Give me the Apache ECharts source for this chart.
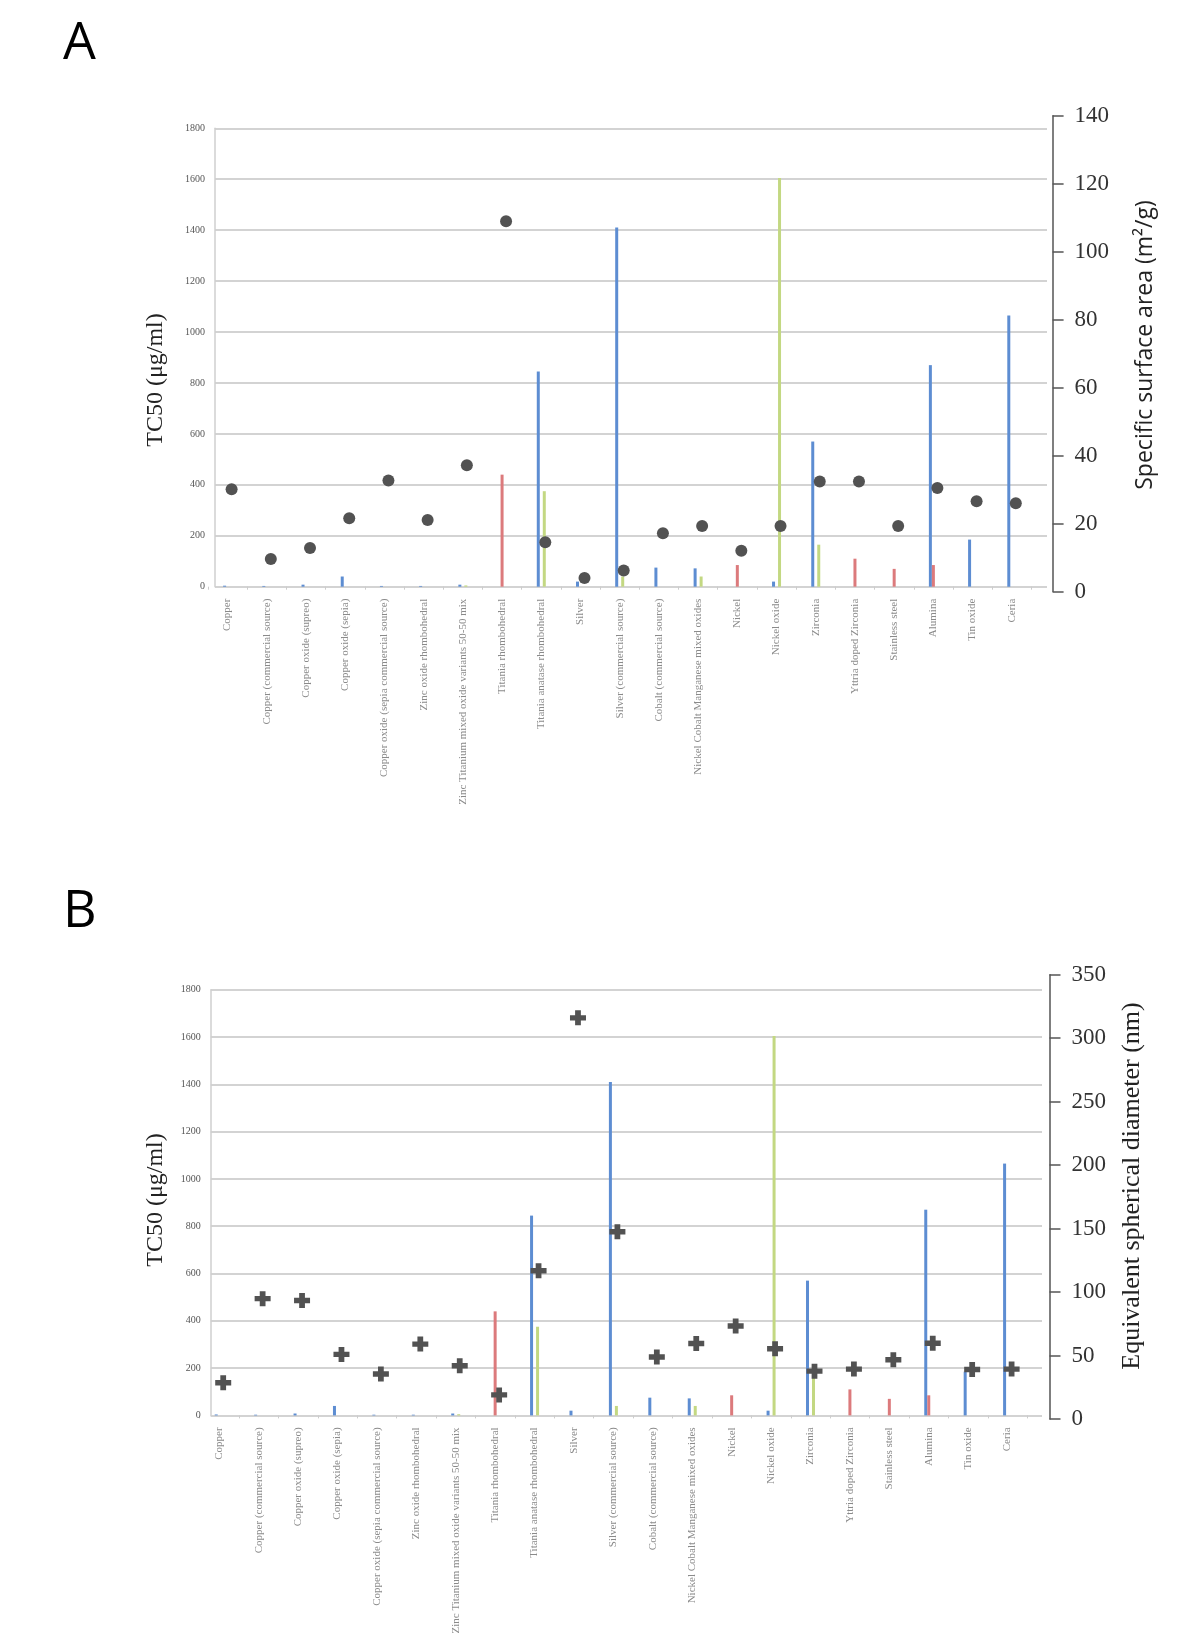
<!DOCTYPE html>
<html>
<head>
<meta charset="utf-8">
<script src="https://cdn.jsdelivr.net/npm/echarts@6/dist/echarts.min.js"></script>
<style>html,body{margin:0;padding:0;background:#fff}#c{width:1200px;height:1651px}</style>
</head>
<body>
<div id="c"></div>
<script>
// ---- data ----
const categories = ['Copper','Copper (commercial source)','Copper oxide (supreo)','Copper oxide (sepia)','Copper oxide (sepia commercial source)','Zinc oxide rhombohedral','Zinc Titanium mixed oxide variants 50-50 mix','Titania rhombohedral','Titania anatase rhombohedral','Silver','Silver (commercial source)','Cobalt (commercial source)','Nickel Cobalt Manganese mixed oxides','Nickel','Nickel oxide','Zirconia','Yttria doped Zirconia','Stainless steel','Alumina','Tin oxide','Ceria'];
const tc50Blue  = [4, 3, 8, 40, 3, 3, 8, null, 845, 20, 1410, 75, 72, null, 20, 570, null, null, 870, 185, 1065];
const tc50Red   = [null, null, null, null, null, null, null, 440, null, null, null, null, null, 85, null, null, 110, 70, 85, null, null];
const tc50Green = [null, null, null, null, null, null, 5, null, 375, null, 40, null, 40, null, 1605, 165, null, null, null, null, null];
const surfaceArea = [30.1, 9.6, 12.8, 21.6, 32.7, 21.1, 37.2, 109, 14.5, 4, 6.2, 17.2, 19.3, 12, 19.3, 32.4, 32.4, 19.3, 30.5, 26.6, 26];
const sphericalDiameter = [28.5, 94.8, 93.3, 50.9, 35.5, 59, 42, 19, 116.8, 316, 147.5, 48.8, 59.5, 73.3, 55.3, 37.7, 39.3, 46.7, 59.7, 39, 39.3];
const tc50Ticks = [0, 200, 400, 600, 800, 1000, 1200, 1400, 1600, 1800];
const areaTicks = [0, 20, 40, 60, 80, 100, 120, 140];
const diameterTicks = [0, 50, 100, 150, 200, 250, 300, 350];

// ---- styling ----
const RED = '#dc7a7c', BLUE = '#5d8dd2', GREEN = '#c3d882';
const SERIF = '"Liberation Serif","DejaVu Serif",serif';
const SANS = '"Open Sans","Liberation Sans",sans-serif';
const plusSymbol = 'path://M3.2,0L6.8,0L6.8,3.2L10,3.2L10,6.8L6.8,6.8L6.8,10L3.2,10L3.2,6.8L0,6.8L0,3.2L3.2,3.2Z';

function tickAxis(ticks){ return {min: ticks[0], max: ticks[ticks.length-1], interval: ticks[1]-ticks[0]}; }

const panels = [
  {gl:{left:215, top:128.3, width:832, height:458.4},
   gb:{left:208, top:128.3, width:823.4, height:458.4},
   gd:{left:212, top:115.8, width:823.4, height:475.8}, rOff:17.2, rTicks:areaTicks, dots:surfaceArea,
   sym:'circle', symSize:12},
  {gl:{left:210.7, top:989.8, width:831.3, height:425.6},
   gb:{left:199.5, top:989.8, width:827.8, height:425.6},
   gd:{left:203.5, top:974.7, width:827.8, height:444.3}, rOff:18.2, rTicks:diameterTicks, dots:sphericalDiameter,
   sym:plusSymbol, symSize:[16,15]}
];

const grid=[], xAxis=[], yAxis=[], series=[];
panels.forEach((p, k) => {
  const base = grid.length;
  [p.gl, p.gb, p.gd].forEach(g => grid.push(Object.assign({outerBoundsMode:'none', containLabel:false}, g)));
  // gridline grid
  xAxis.push({gridIndex:base, type:'category', data:categories, show:false});
  yAxis.push(Object.assign({gridIndex:base, type:'value', position:'left',
    axisLine:{show:true, lineStyle:{color:'#cfcfcf', width:1.5}},
    axisTick:{show:false},
    axisLabel:{fontFamily:SERIF, fontSize:10, color:'#555', margin:10, formatter: v => String(v)},
    splitLine:{show:true, lineStyle:{color:'#c4c4c4', width:1.6}}}, tickAxis(tc50Ticks)));
  // bar grid
  xAxis.push({gridIndex:base+1, type:'category', data:categories,
    axisLine:{show:false}, axisTick:{show:true, alignWithLabel:false, length:3, lineStyle:{color:'#cccccc'}},
    axisLabel:{interval:0, rotate:90, fontFamily:SERIF, fontSize:11, color:'#8a8a8a', margin:12}});
  yAxis.push(Object.assign({gridIndex:base+1, type:'value', show:false, splitLine:{show:false}}, tickAxis(tc50Ticks)));
  // dot grid
  xAxis.push({gridIndex:base+2, type:'category', data:categories, show:false});
  yAxis.push(Object.assign({gridIndex:base+2, type:'value', position:'right', offset:p.rOff,
    axisLine:{show:true, lineStyle:{color:'#555', width:1.5}},
    axisTick:{show:true, inside:false, length:11, lineStyle:{color:'#555', width:1.5}},
    axisLabel:{fontFamily:'Liberation Serif', fontSize:23, color:'#333', margin:22, formatter: v => String(v)},
    splitLine:{show:false}}, tickAxis(p.rTicks)));
  const bars = [[tc50Blue, BLUE], [tc50Red, RED], [tc50Green, GREEN]];
  bars.forEach(([d, c]) => series.push({type:'bar', xAxisIndex:base+1, yAxisIndex:base+1, data:d,
    barWidth:3, barGap:'0%', itemStyle:{color:c}, silent:true, animation:false}));
  series.push({type:'scatter', xAxisIndex:base+2, yAxisIndex:base+2, data:p.dots,
    symbol:p.sym, symbolSize:p.symSize, itemStyle:{color:'#525252', opacity:1}, animation:false, silent:true});
});

const graphic = [
  {type:'text', left:63, top:18, style:{text:'A', font:'52px ' + SANS, fill:'#000'}},
  {type:'text', left:63, top:886, style:{text:'B', font:'52px ' + SANS, fill:'#000'}},
  {type:'text', x:156, y:380, rotation:Math.PI/2, style:{text:'TC50 (μg/ml)', font:'24px ' + SERIF, fill:'#222', align:'center', verticalAlign:'middle'}},
  {type:'text', x:1145, y:345, rotation:Math.PI/2, style:{text:'Specific surface area (m²/g)', font:'23px ' + SANS, fill:'#222', align:'center', verticalAlign:'middle'}},
  {type:'text', x:156, y:1200, rotation:Math.PI/2, style:{text:'TC50 (μg/ml)', font:'24px ' + SERIF, fill:'#222', align:'center', verticalAlign:'middle'}},
  {type:'text', x:1132, y:1186, rotation:Math.PI/2, style:{text:'Equivalent spherical diameter (nm)', font:'26px ' + SERIF, fill:'#222', align:'center', verticalAlign:'middle'}}
];

const chart = echarts.init(document.getElementById('c'), null, {renderer:'canvas'});
chart.setOption({backgroundColor:'#fff', animation:false, grid, xAxis, yAxis, series, graphic});
</script>
</body>
</html>
